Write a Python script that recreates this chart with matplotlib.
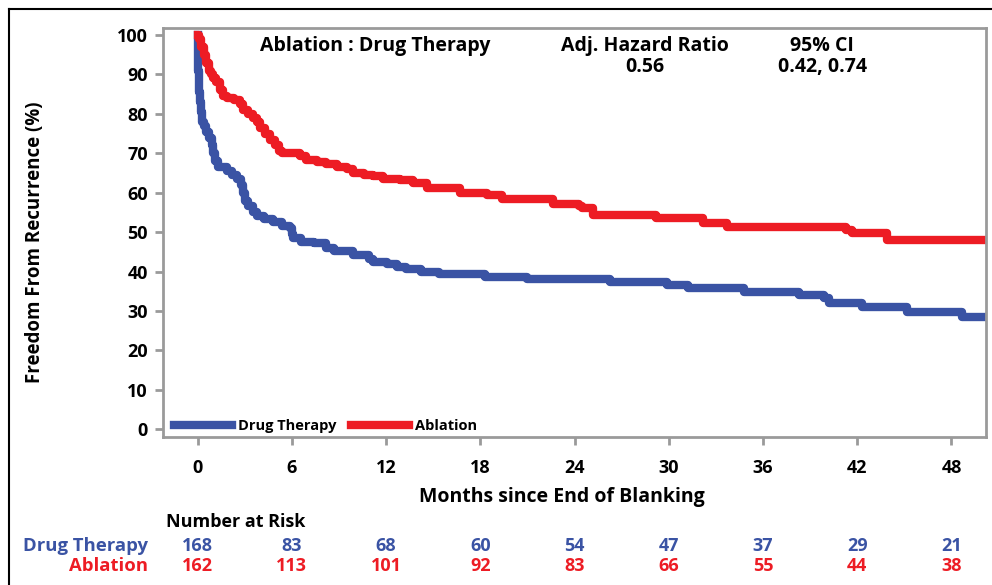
import matplotlib
matplotlib.use('Agg')
import matplotlib.pyplot as plt
from matplotlib.lines import Line2D

plt.rcParams['font.family'] = ['Open Sans', 'DejaVu Sans']
plt.rcParams['font.weight'] = 'bold'

# Kaplan-Meier curves (months, % free from recurrence)
drug_t = [0, 0.02, 0.04, 0.06, 0.08, 0.1, 0.15, 0.2, 0.28, 0.4, 0.55, 0.75, 0.9, 1.0, 1.1, 1.3,
          1.9, 2.2, 2.5, 2.75, 2.9, 3.05, 3.2, 3.5, 3.8, 4.2, 4.8, 5.4, 5.9, 6.0, 6.1, 6.6,
          7.4, 8.2, 8.7, 9.9, 10.9, 11.2, 12.05, 12.7, 13.3, 14.2, 15.4, 18.3, 20.95, 26.25,
          29.9, 31.2, 34.8, 38.3, 39.9, 40.2, 42.3, 45.2, 48.7, 50.2]
drug_s = [100, 97, 94, 91, 88, 85.5, 83, 80.5, 78, 77, 75.5, 74, 72, 70, 68, 66.5,
          65.5, 64.5, 63.5, 62, 60, 58, 56.5, 55, 54, 53.2, 52.6, 51.5, 51, 49.5, 48.5, 47.5,
          47.2, 46, 45.3, 44.2, 43.2, 42.5, 41.8, 41.2, 40.6, 39.9, 39.3, 38.7, 38, 37.3,
          36.5, 35.7, 34.9, 34.0, 33.3, 32.0, 31.0, 29.8, 28.5, 28.5]

abl_t = [0, 0.1, 0.25, 0.4, 0.55, 0.7, 0.85, 1.0, 1.2, 1.4, 1.6, 1.9, 2.3, 2.7, 2.9, 3.2,
         3.5, 3.8, 4.0, 4.3, 4.6, 4.9, 5.2, 5.4, 6.5, 6.9, 7.6, 8.2, 8.9, 9.5, 9.9, 10.6,
         11.2, 11.8, 12.9, 13.7, 14.6, 16.7, 18.4, 19.4, 22.6, 24.3, 24.5, 25.2, 29.2, 32.2,
         33.7, 41.3, 41.7, 43.9, 50.2]
abl_s = [100, 99, 97, 95, 93, 91, 90, 89, 88, 86, 84.5, 84, 83.5, 82.5, 81, 80,
         79, 78, 76.5, 75, 73.5, 72, 70.5, 70, 69.3, 68.2, 67.8, 67.3, 66.6, 66, 65, 64.6,
         64.2, 63.6, 63.2, 62.4, 61.2, 60, 59.4, 58.5, 57.2, 56.5, 56, 54.3, 53.5, 52.2,
         51.3, 50.5, 49.7, 48.1, 48.1]

risk_months = [0, 6, 12, 18, 24, 30, 36, 42, 48]
risk_drug = [168, 83, 68, 60, 54, 47, 37, 29, 21]
risk_abl = [162, 113, 101, 92, 83, 66, 55, 44, 38]

blue = '#3a53a4'
red = '#ed1c24'
grey = '#9a9a9a'

fig = plt.figure(figsize=(9.92, 5.85), dpi=100)
ax = fig.add_axes([163 / 992, 1 - 437 / 585, (986 - 163) / 992, (437 - 28) / 585])

ax.step(drug_t, drug_s, where='post', color=blue, lw=6, label='Drug Therapy')
ax.step(abl_t, abl_s, where='post', color=red, lw=6, label='Ablation')

ax.set_xlim(-2.2, 50.2)
ax.set_ylim(-2, 101.8)
ax.set_xticks(risk_months)
ax.set_yticks(range(0, 101, 10))
for s in ax.spines.values():
    s.set_color(grey)
    s.set_linewidth(2)
ax.tick_params(colors=grey, width=2, length=6, labelcolor='black', labelsize=13)
ax.tick_params(axis='x', pad=10)
ax.tick_params(axis='y', pad=5)

ax.legend(loc='lower left', bbox_to_anchor=(0.006, -0.005), ncol=2, frameon=False,
          handlelength=4.0, handletextpad=0.4, columnspacing=1.0, borderaxespad=0.0,
          prop={'weight': 'bold', 'size': 10.5})

# header
hdr = dict(ha='center', va='center', fontsize=14, fontweight='bold')
fig.text(375 / 992, 1 - 46 / 585, 'Ablation : Drug Therapy', **hdr)
fig.text(645 / 992, 1 - 46 / 585, 'Adj. Hazard Ratio', **hdr)
fig.text(645 / 992, 1 - 67 / 585, '0.56', **hdr)
fig.text(822 / 992, 1 - 46 / 585, '95% CI', **hdr)
fig.text(822 / 992, 1 - 67 / 585, '0.42, 0.74', **hdr)

fig.text(35 / 992, 1 - 242 / 585, 'Freedom From Recurrence (%)', rotation=90,
         ha='center', va='center', fontsize=13.5, fontweight='bold')
fig.text(562 / 992, 1 - 497 / 585, 'Months since End of Blanking',
         ha='center', va='center', fontsize=14, fontweight='bold')

# number at risk table
fig.text(166 / 992, 1 - 522 / 585, 'Number at Risk', ha='left', va='center',
         fontsize=13, fontweight='bold')
fig.text(148 / 992, 1 - 546 / 585, 'Drug Therapy', ha='right', va='center',
         fontsize=13.3, fontweight='bold', color=blue)
fig.text(148 / 992, 1 - 566 / 585, 'Ablation', ha='right', va='center',
         fontsize=13.3, fontweight='bold', color=red)
for m, d, a in zip(risk_months, risk_drug, risk_abl):
    xf = ax.transData.transform((m, 0))[0] / fig.bbox.width
    fig.text(xf, 1 - 546 / 585, str(d), ha='center', va='center',
             fontsize=13, fontweight='bold', color=blue)
    fig.text(xf, 1 - 566 / 585, str(a), ha='center', va='center',
             fontsize=13, fontweight='bold', color=red)

# outer frame
fig.add_artist(Line2D([9 / 992, 9 / 992], [0, 1 - 9 / 585], color='black', lw=1.5))
fig.add_artist(Line2D([9 / 992, 1], [1 - 9 / 585, 1 - 9 / 585], color='black', lw=1.5))

fig.savefig('out.png', dpi=100)
